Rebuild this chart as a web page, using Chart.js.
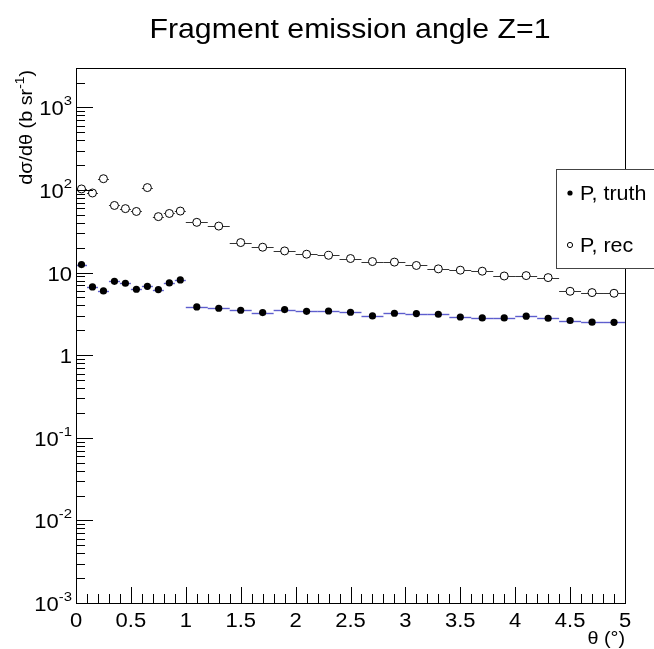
<!DOCTYPE html>
<html>
<head>
<meta charset="utf-8">
<script src="https://cdn.jsdelivr.net/npm/chart.js@4.4.1/dist/chart.umd.min.js"></script>
<style>
  html, body { margin: 0; padding: 0; background: #fff; }
  #wrap { width: 654px; height: 649px; }
</style>
</head>
<body>
<div id="wrap"><canvas id="grafico" width="654" height="649"></canvas></div>
<script>
// bin edges in theta (deg): 0.1 wide up to 1, then 0.2 wide
const binEdges = [0, 0.1, 0.2, 0.3, 0.4, 0.5, 0.6, 0.7, 0.8, 0.9, 1.0,
  1.2, 1.4, 1.6, 1.8, 2.0, 2.2, 2.4, 2.6, 2.8, 3.0,
  3.2, 3.4, 3.6, 3.8, 4.0, 4.2, 4.4, 4.6, 4.8, 5.0]

const truthValues = [12.5, 6.7, 6.0, 7.85, 7.43, 6.29, 6.83, 6.23, 7.5, 8.15,
  3.84, 3.70, 3.50, 3.28, 3.57, 3.40, 3.43, 3.31, 2.99, 3.22,
  3.19, 3.13, 2.90, 2.83, 2.83, 2.97, 2.80, 2.63, 2.51, 2.50]

const recValues = [103, 92, 137, 65, 59.5, 55, 107, 47.6, 52, 55.6,
  40.6, 36.6, 23.1, 20.3, 18.3, 16.7, 16.2, 14.8, 13.6, 13.4,
  12.2, 11.1, 10.7, 10.4, 9.1, 9.2, 8.7, 5.94, 5.73, 5.62]

const xTickValues = [0, 0.5, 1, 1.5, 2, 2.5, 3, 3.5, 4, 4.5, 5]
const xTickLabels = ['0', '0.5', '1', '1.5', '2', '2.5', '3', '3.5', '4', '4.5', '5']
const yTickValues = [0.001, 0.01, 0.1, 1, 10, 100, 1000]
const yTickLabels = [['10', '-3'], ['10', '-2'], ['10', '-1'], ['1', ''], ['10', ''], ['10', '2'], ['10', '3']]

const FONT = '"Liberation Sans", Arial, Helvetica, sans-serif'
const STRETCH = 1.1

function makePoints(values) {
  return values.map((v, i) => ({
    x: (binEdges[i] + binEdges[i + 1]) / 2,
    y: v,
    xlo: binEdges[i],
    xhi: binEdges[i + 1]
  }))
}

// text drawn a bit wider than the font, like the reference
function drawText(ctx, text, x, y, size, align) {
  ctx.save()
  ctx.font = size + 'px ' + FONT
  ctx.textBaseline = 'alphabetic'
  var w = ctx.measureText(text).width * STRETCH
  var left = x
  if (align == 'right') left = x - w
  if (align == 'center') left = x - w / 2
  ctx.translate(left, y)
  ctx.scale(STRETCH, 1)
  ctx.fillStyle = '#000'
  ctx.textAlign = 'left'
  ctx.fillText(text, 0, 0)
  ctx.restore()
  return w
}

function textWidth(ctx, text, size) {
  ctx.save()
  ctx.font = size + 'px ' + FONT
  var w = ctx.measureText(text).width * STRETCH
  ctx.restore()
  return w
}

const errorBars = {
  id: 'errorBars',
  beforeDatasetsDraw(chart) {
    const ctx = chart.ctx
    const xs = chart.scales.x, ys = chart.scales.y
    chart.data.datasets.forEach((ds) => {
      ctx.save()
      ctx.strokeStyle = ds.errColor
      ctx.lineWidth = ds.errWidth
      ds.data.forEach(p => {
        var y = Math.round(ys.getPixelForValue(p.y)) + 0.5
        ctx.beginPath()
        ctx.moveTo(xs.getPixelForValue(p.xlo), y)
        ctx.lineTo(xs.getPixelForValue(p.xhi), y)
        ctx.stroke()
      })
      ctx.restore()
    })
  }
}

const frameAndAxes = {
  id: 'frameAndAxes',
  afterDraw(chart) {
    const ctx = chart.ctx
    const a = chart.chartArea
    const xs = chart.scales.x, ys = chart.scales.y

    ctx.save()
    ctx.strokeStyle = '#000'
    ctx.lineWidth = 1
    ctx.strokeRect(Math.round(a.left) + 0.5, Math.round(a.top) + 0.5,
      Math.round(a.right - a.left), Math.round(a.bottom - a.top))

    // x ticks, pointing inward
    ctx.beginPath()
    for (var i = 0; i <= 50; i++) {
      var v = i / 10
      var px = Math.round(xs.getPixelForValue(v)) + 0.5
      var len = (i % 5 == 0) ? 16 : 9
      ctx.moveTo(px, a.bottom)
      ctx.lineTo(px, a.bottom - len)
    }
    // y ticks (log)
    yTickValues.forEach((dec) => {
      for (var m = 1; m <= 9; m++) {
        var val = dec * m
        if (val > ys.max) break
        var py = Math.round(ys.getPixelForValue(val)) + 0.5
        var len2 = (m == 1) ? 17 : 9
        ctx.moveTo(a.left, py)
        ctx.lineTo(a.left + len2, py)
      }
    })
    ctx.stroke()
    ctx.restore()

    // x tick labels
    xTickValues.forEach((v, i) => {
      drawText(ctx, xTickLabels[i], xs.getPixelForValue(v), a.bottom + 24, 20, 'center')
    })

    // y tick labels with exponents
    yTickValues.forEach((v, i) => {
      var base = yTickLabels[i][0], exp = yTickLabels[i][1]
      var py = ys.getPixelForValue(v)
      var right = a.left - 4
      var ew = exp ? textWidth(ctx, exp, 13.5) : 0
      drawText(ctx, base, right - ew, py + 8, 20, 'right')
      if (exp) drawText(ctx, exp, right, py - 2, 13.5, 'right')
    })

    // axis titles
    drawText(ctx, 'θ (°)', a.right, a.bottom + 41, 18, 'right')

    ctx.save()
    ctx.translate(32, a.top + 2)
    ctx.rotate(-Math.PI / 2)
    var wSup = textWidth(ctx, '-1', 12.5)
    var wEnd = textWidth(ctx, ')', 18)
    drawText(ctx, ')', 0, 0, 18, 'right')
    drawText(ctx, '-1', -wEnd, -8, 12.5, 'right')
    drawText(ctx, 'dσ/dθ (b sr', -wEnd - wSup, 0, 18, 'right')
    ctx.restore()

    // title
    drawText(ctx, 'Fragment emission angle Z=1', 350, 38, 27.5, 'center')

    // legend box, partly outside the canvas like in the original
    ctx.save()
    ctx.fillStyle = '#fff'
    ctx.fillRect(557, 169, 120, 99)
    ctx.strokeStyle = '#444'
    ctx.lineWidth = 1
    ctx.strokeRect(556.5, 169.5, 120, 99)
    ctx.fillStyle = '#000'
    ctx.beginPath()
    ctx.arc(570, 193, 2.6, 0, Math.PI * 2)
    ctx.fill()
    ctx.beginPath()
    ctx.arc(570, 245, 2.6, 0, Math.PI * 2)
    ctx.strokeStyle = '#000'
    ctx.stroke()
    ctx.restore()
    drawText(ctx, 'P, truth', 580, 200, 19.5, 'left')
    drawText(ctx, 'P, rec', 580, 252, 19.5, 'left')
  }
}

const chart = new Chart(document.getElementById('grafico'), {
  type: 'scatter',
  data: {
    datasets: [
      {
        label: 'P, truth',
        data: makePoints(truthValues),
        pointStyle: 'circle',
        pointRadius: 3.6,
        pointBackgroundColor: '#000',
        pointBorderColor: '#000',
        pointBorderWidth: 0,
        errColor: 'rgba(40, 40, 190, 0.75)',
        errWidth: 1.4
      },
      {
        label: 'P, rec',
        data: makePoints(recValues),
        pointStyle: 'circle',
        pointRadius: 4,
        pointBackgroundColor: '#fff',
        pointBorderColor: '#000',
        pointBorderWidth: 1,
        errColor: '#333',
        errWidth: 1
      }
    ]
  },
  options: {
    responsive: false,
    animation: false,
    events: [],
    layout: { padding: { left: 76, right: 29, top: 68, bottom: 46 } },
    scales: {
      x: { type: 'linear', min: 0, max: 5, display: false },
      y: { type: 'logarithmic', min: 0.001, max: 3000, display: false }
    },
    plugins: {
      legend: { display: false },
      tooltip: { enabled: false }
    }
  },
  plugins: [errorBars, frameAndAxes]
})
</script>
</body>
</html>
